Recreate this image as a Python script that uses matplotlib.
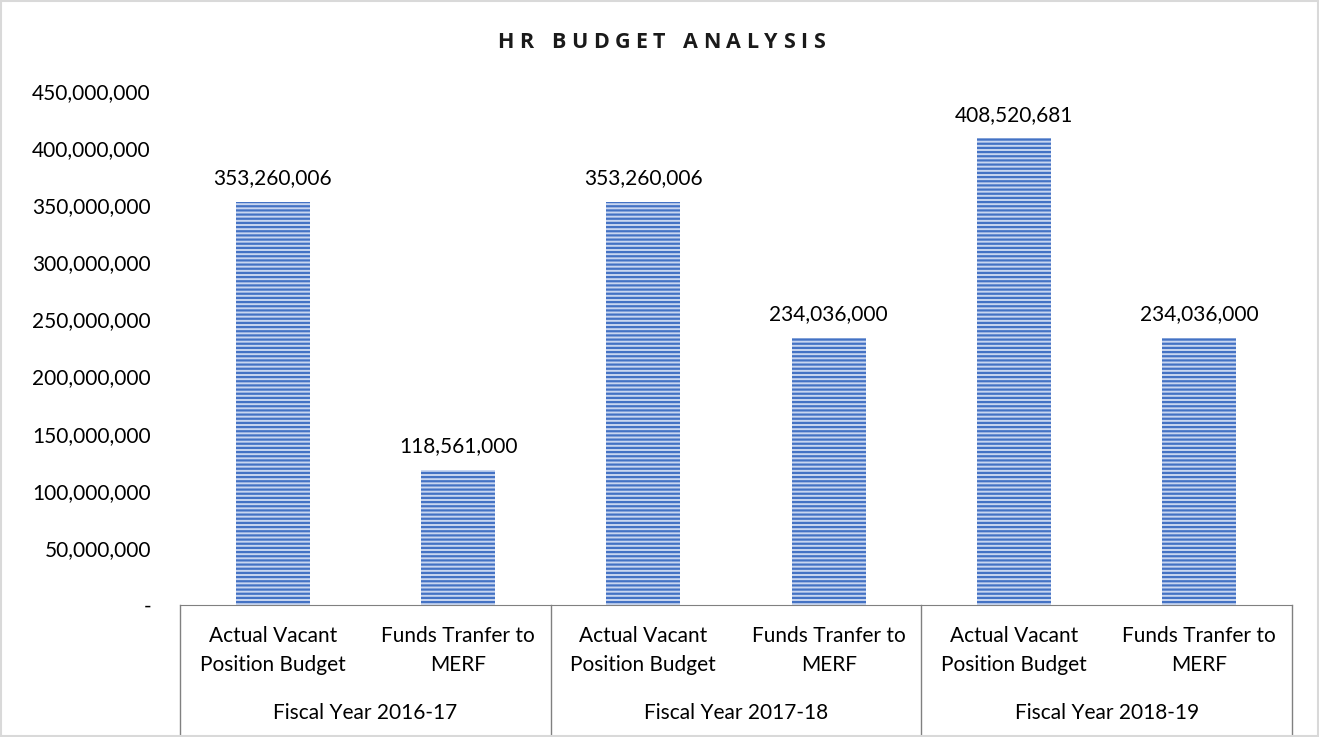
import matplotlib.pyplot as plt
import matplotlib.patches as mpatches
import numpy as np

plt.rcParams['font.family'] = ['Lato', 'DejaVu Sans']
plt.rcParams['hatch.linewidth'] = 1.6

# data
categories = ["Actual Vacant\nPosition Budget", "Funds Tranfer to\nMERF"] * 3
groups = ["Fiscal Year 2016-17", "Fiscal Year 2017-18", "Fiscal Year 2018-19"]
values = [353260006, 118561000, 353260006, 234036000, 408520681, 234036000]
title = "HR BUDGET ANALYSIS"

fig = plt.figure(figsize=(13.19, 7.37), dpi=100)
ax = fig.add_axes([0.1365, 0.1791, 0.843, 0.6974])

x = np.arange(len(values))
ax.bar(x, values, width=0.4, color='#c9d6f0', edgecolor='#4472c4',
       hatch='----', linewidth=0)

for xi, v in zip(x, values):
    ax.text(xi, v + 12e6, f"{v:,}", ha='center', va='bottom', fontsize=15)

ax.set_xlim(-0.5, len(values) - 0.5)
ax.set_ylim(0, 450e6)
yt = np.arange(0, 450e6 + 1, 50e6)
ax.set_yticks(yt)
ax.set_yticklabels(['-'] + [f"{int(t):,}" for t in yt[1:]], fontsize=15)
ax.tick_params(axis='y', length=0, pad=21)
ax.set_xticks([])
for s in ['top', 'right', 'left']:
    ax.spines[s].set_visible(False)
ax.spines['bottom'].set_color('#808080')

# category labels
trans = ax.get_xaxis_transform()
for xi, c in zip(x, categories):
    ax.text(xi, -0.088, c, transform=trans, ha='center', va='center',
            fontsize=15, linespacing=1.55)
for gi, g in enumerate(groups):
    ax.text(2 * gi + 0.5, -0.21, g, transform=trans, ha='center', va='center',
            fontsize=15)
for b in [-0.5, 1.5, 3.5, 5.5]:
    ax.plot([b, b], [0, -0.26], transform=trans, color='#808080', lw=1,
            clip_on=False)

# letter-spaced title
tfont = dict(fontsize=15.5, fontweight='bold', family='Open Sans')
renderer = fig.canvas.get_renderer()
widths = []
for ch in title:
    t = fig.text(0, 0, ch if ch != ' ' else 'I', **tfont)
    widths.append(t.get_window_extent(renderer).width)
    t.remove()
target = 327
tracking = (target - sum(widths)) / (len(title) - 1)
xpos = 661 - target / 2
for ch, w in zip(title, widths):
    if ch != ' ':
        fig.text(xpos / 1319, 1 - 42 / 737, ch, ha='left', va='center',
                 color='#1a1a1a', **tfont)
    xpos += w + tracking

fig.patches.append(mpatches.Rectangle((0.001, 0.001), 0.998, 0.997,
                                      transform=fig.transFigure, fill=False,
                                      edgecolor='#d9d9d9', lw=1.5))

fig.savefig('out.png', dpi=100)
